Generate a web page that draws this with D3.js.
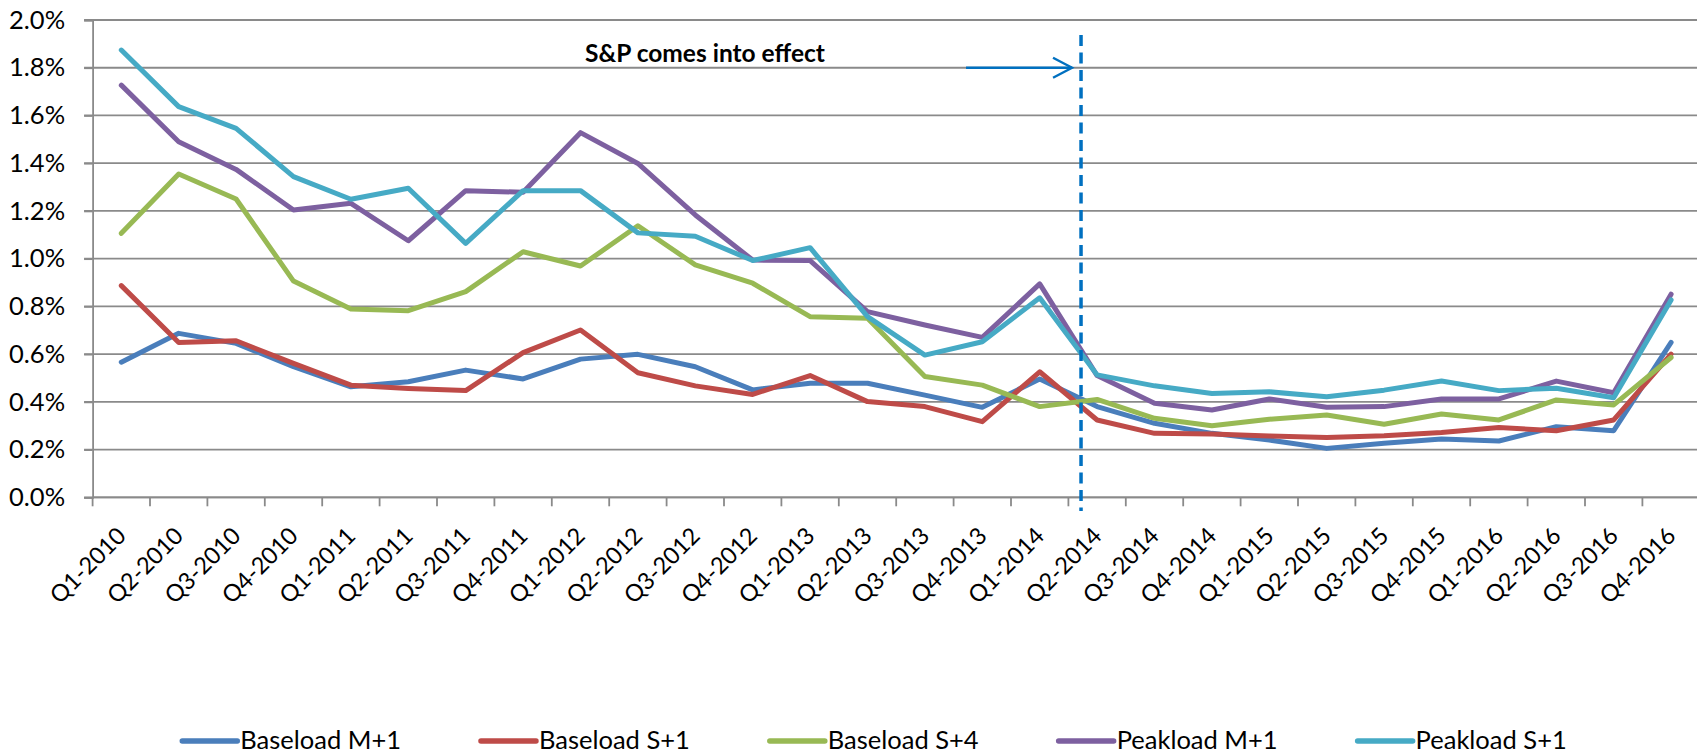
<!DOCTYPE html>
<html>
<head>
<meta charset="utf-8">
<script src="https://cdn.jsdelivr.net/npm/d3@7/dist/d3.min.js"></script>
<style>
  html, body { margin: 0; padding: 0; background: #fff; }
  svg { display: block; }
  text { font-family: Lato, "Open Sans", sans-serif; fill: #000; }
</style>
</head>
<body>
<svg id="chart" width="1697" height="753"></svg>
<script>
const categories = [
  "Q1-2010","Q2-2010","Q3-2010","Q4-2010",
  "Q1-2011","Q2-2011","Q3-2011","Q4-2011",
  "Q1-2012","Q2-2012","Q3-2012","Q4-2012",
  "Q1-2013","Q2-2013","Q3-2013","Q4-2013",
  "Q1-2014","Q2-2014","Q3-2014","Q4-2014",
  "Q1-2015","Q2-2015","Q3-2015","Q4-2015",
  "Q1-2016","Q2-2016","Q3-2016","Q4-2016"
];
// values in percent
const baseloadM1 = [0.566,0.687,0.645,0.547,0.463,0.484,0.533,0.496,0.579,0.599,0.547,0.450,0.478,0.478,0.428,0.377,0.496,0.380,0.310,0.268,0.240,0.205,0.226,0.244,0.236,0.296,0.279,0.649];
const baseloadS1 = [0.887,0.649,0.656,0.561,0.470,0.456,0.447,0.606,0.701,0.522,0.467,0.431,0.510,0.401,0.380,0.317,0.526,0.324,0.268,0.265,0.257,0.251,0.258,0.272,0.292,0.279,0.324,0.600];
const baseloadS4 = [1.106,1.355,1.250,0.906,0.789,0.782,0.862,1.029,0.969,1.138,0.974,0.897,0.757,0.750,0.506,0.470,0.380,0.410,0.331,0.300,0.327,0.345,0.306,0.349,0.324,0.408,0.387,0.586];
const peakloadM1 = [1.727,1.490,1.374,1.204,1.232,1.075,1.285,1.278,1.528,1.399,1.183,0.994,0.992,0.778,0.722,0.670,0.894,0.510,0.394,0.366,0.412,0.377,0.380,0.412,0.412,0.487,0.438,0.851];
const peakloadS1 = [1.874,1.637,1.546,1.344,1.249,1.295,1.064,1.285,1.285,1.108,1.094,0.992,1.046,0.757,0.596,0.652,0.836,0.513,0.467,0.435,0.442,0.421,0.449,0.487,0.447,0.457,0.417,0.827];

const seriesNames = ["Baseload M+1","Baseload S+1","Baseload S+4","Peakload M+1","Peakload S+1"];
const seriesValues = [baseloadM1, baseloadS1, baseloadS4, peakloadM1, peakloadS1];
const seriesColors = ["#4A7EBB","#BE4B48","#98B954","#7D60A0","#46AAC5"];

const yTicks = [0,0.2,0.4,0.6,0.8,1.0,1.2,1.4,1.6,1.8,2.0];
const annotationText = "S&P comes into effect";
const effectPosition = 17.22;   // in category units (between Q1-2014 and Q2-2014)
const arrowLevel = 1.8;          // percent level of the arrow

// ---------- layout ----------
const plotLeft = 92.6, bandW = 57.4, plotTop = 20, plotBottom = 497.3;
const svg = d3.select("#chart");

const x = d3.scaleBand().domain(categories).range([plotLeft, plotLeft + bandW * categories.length]).padding(0);
const y = d3.scaleLinear().domain([0, 2]).range([plotBottom, plotTop]);
const cx = c => x(c) + x.bandwidth() / 2;
const gridColor = "#8a8a8a";

// gridlines
svg.append("g").selectAll("line").data(yTicks).join("line")
  .attr("x1", plotLeft - 8.5).attr("x2", 1697)
  .attr("y1", d => y(d)).attr("y2", d => y(d))
  .attr("stroke", gridColor).attr("stroke-width", 1.8);

// y axis
const yAxis = svg.append("g").attr("transform", `translate(${plotLeft},0)`)
  .call(d3.axisLeft(y).tickValues(yTicks).tickFormat(d => d3.format(".1f")(d) + "%").tickSize(8.5).tickPadding(19));
yAxis.select(".domain").attr("stroke", gridColor).attr("stroke-width", 1.8);
yAxis.selectAll(".tick line").attr("stroke", gridColor).attr("stroke-width", 1.8);
yAxis.selectAll("text").style("font-size", "25.5px").style("font-family", "Lato").attr("fill", "#000");

// x axis ticks at band boundaries
const xAxis = svg.append("g").attr("transform", `translate(0,${plotBottom})`);
xAxis.append("line").attr("x1", plotLeft).attr("x2", 1697).attr("y1", 0).attr("y2", 0)
  .attr("stroke", gridColor).attr("stroke-width", 1.8);
xAxis.selectAll("line.tk").data(d3.range(categories.length + 1)).join("line")
  .attr("class", "tk")
  .attr("x1", i => plotLeft + i * x.bandwidth()).attr("x2", i => plotLeft + i * x.bandwidth())
  .attr("y1", 0).attr("y2", 9)
  .attr("stroke", gridColor).attr("stroke-width", 1.8);
xAxis.selectAll("text").data(categories).join("text")
  .attr("transform", c => `translate(${cx(c) + 6},${40}) rotate(-45)`)
  .attr("text-anchor", "end")
  .style("font-size", "23.5px")
  .text(c => c);

// series lines
const line = d3.line().x((d, i) => cx(categories[i])).y(d => y(d));
svg.append("g").selectAll("path").data(seriesValues).join("path")
  .attr("d", d => line(d))
  .attr("fill", "none")
  .attr("stroke", (d, i) => seriesColors[i])
  .attr("stroke-width", 5)
  .attr("stroke-linejoin", "round")
  .attr("stroke-linecap", "round");

// S&P effect marker
const effX = plotLeft + effectPosition * x.bandwidth();
svg.append("line")
  .attr("x1", effX).attr("x2", effX).attr("y1", 35).attr("y2", 511)
  .attr("stroke", "#0070C0").attr("stroke-width", 3.5).attr("stroke-dasharray", "11,6.5");

const ay = y(arrowLevel);
svg.append("line").attr("x1", effX - 115).attr("x2", effX - 9).attr("y1", ay).attr("y2", ay)
  .attr("stroke", "#0070C0").attr("stroke-width", 2.4);
svg.append("path")
  .attr("d", `M${effX - 28},${ay - 10} L${effX - 9},${ay} L${effX - 28},${ay + 10}`)
  .attr("fill", "none").attr("stroke", "#0070C0").attr("stroke-width", 2.4);

svg.append("text")
  .attr("x", 705).attr("y", 62)
  .attr("text-anchor", "middle")
  .style("font-size", "24.5px").style("font-weight", "bold")
  .text(annotationText);

// legend
const legend = svg.append("g");
const legendItems = legend.selectAll("g").data(seriesNames).join("g");
legendItems.append("line")
  .attr("x1", 0).attr("x2", 55).attr("y1", 0).attr("y2", 0)
  .attr("stroke", (d, i) => seriesColors[i]).attr("stroke-width", 5.5).attr("stroke-linecap", "round");
legendItems.append("text")
  .attr("x", 58).attr("y", 7.5)
  .style("font-size", "25.5px")
  .text(d => d);
let offs = 0;
const positions = [];
legendItems.each(function(d, i) {
  const w = 58 + d3.select(this).select("text").node().getComputedTextLength();
  positions.push(offs);
  offs += w + 80;
});
const totalW = offs - 80;
const legendStart = 874.5 - totalW / 2;
legendItems.attr("transform", (d, i) => `translate(${legendStart + positions[i]},741)`);
</script>
</body>
</html>
